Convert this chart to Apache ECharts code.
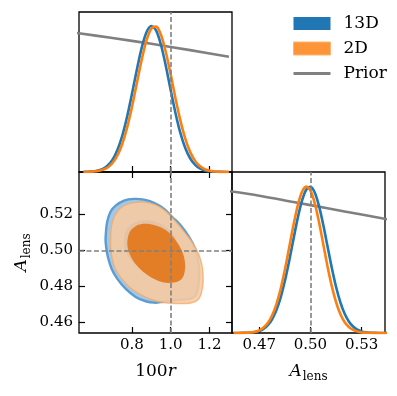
<!DOCTYPE html>
<html>
<head>
<meta charset="utf-8">
<script src="https://cdn.jsdelivr.net/npm/echarts@6/dist/echarts.min.js"></script>
<style>
  html, body { margin: 0; padding: 0; background: #fff; }
  #chart { width: 397px; height: 396px; }
</style>
</head>
<body>
<div id="chart"></div>
<script>
// axis ranges and ticks
const rMin = 0.527, rMax = 1.316;
const aMin = 0.454, aMax = 0.5437;
const rTicks = [0.8, 1.0, 1.2];
const aTicksY = [0.46, 0.48, 0.50, 0.52];
const aTicksX = [0.47, 0.50, 0.53];
const rTrue = 1.0;
const aTrue = 0.5;

// 1D marginal of 100r
const rGrid = [0.550, 0.575, 0.600, 0.625, 0.650, 0.675, 0.700, 0.725, 0.750, 0.775, 0.800,
  0.825, 0.850, 0.875, 0.900, 0.925, 0.950, 0.975, 1.000, 1.025, 1.050, 1.075, 1.100,
  1.125, 1.150, 1.175, 1.200, 1.225, 1.250, 1.275, 1.300];
const r13D = [0.001, 0.002, 0.004, 0.010, 0.022, 0.045, 0.085, 0.151, 0.248, 0.378, 0.534,
  0.699, 0.849, 0.957, 1.000, 0.969, 0.870, 0.725, 0.560, 0.401, 0.266, 0.164, 0.094,
  0.050, 0.024, 0.011, 0.005, 0.002, 0.001, 0.000, 0.000];
const r2D = [0.000, 0.001, 0.003, 0.007, 0.015, 0.031, 0.062, 0.113, 0.192, 0.304, 0.445,
  0.607, 0.767, 0.901, 0.983, 0.996, 0.938, 0.820, 0.666, 0.502, 0.352, 0.229, 0.138,
  0.078, 0.041, 0.020, 0.009, 0.004, 0.001, 0.001, 0.000];
const rPriorX = [0.50, 0.70, 0.90, 1.10, 1.30];
const rPriorY = [0.955, 0.918, 0.878, 0.835, 0.790];

// 1D marginal of A_lens
const aGrid = [0.4550, 0.4575, 0.4600, 0.4625, 0.4650, 0.4675, 0.4700, 0.4725, 0.4750, 0.4775,
  0.4800, 0.4825, 0.4850, 0.4875, 0.4900, 0.4925, 0.4950, 0.4975, 0.5000, 0.5025,
  0.5050, 0.5075, 0.5100, 0.5125, 0.5150, 0.5175, 0.5200, 0.5225, 0.5250, 0.5275,
  0.5300, 0.5325, 0.5350, 0.5375, 0.5400, 0.5425, 0.5450];
const a13D = [0.000, 0.000, 0.001, 0.001, 0.003, 0.007, 0.014, 0.028, 0.053, 0.094,
  0.155, 0.242, 0.355, 0.491, 0.639, 0.783, 0.902, 0.979, 0.999, 0.960,
  0.868, 0.739, 0.592, 0.446, 0.316, 0.211, 0.133, 0.079, 0.044, 0.023,
  0.011, 0.005, 0.002, 0.001, 0.000, 0.000, 0.000];
const a2D = [0.000, 0.000, 0.001, 0.002, 0.004, 0.009, 0.018, 0.037, 0.068, 0.120,
  0.196, 0.300, 0.432, 0.582, 0.734, 0.869, 0.963, 1.000, 0.973, 0.887,
  0.758, 0.607, 0.455, 0.320, 0.211, 0.130, 0.075, 0.041, 0.021, 0.010,
  0.004, 0.002, 0.001, 0.000, 0.000, 0.000, 0.000];
const aPriorX = [0.45, 0.47, 0.49, 0.51, 0.53, 0.55];
const aPriorY = [0.973, 0.938, 0.895, 0.852, 0.809, 0.766];

// 2D contours [100r, A_lens]
const c13D95 = [[0.664, 0.5065], [0.672, 0.5157], [0.690, 0.5217], [0.716, 0.5250], [0.759, 0.5278],
  [0.810, 0.5287], [0.862, 0.5283], [0.914, 0.5265], [0.966, 0.5231], [1.009, 0.5185],
  [1.052, 0.5139], [1.095, 0.5074], [1.126, 0.5009], [1.141, 0.4944], [1.147, 0.4880],
  [1.143, 0.4806], [1.133, 0.4759], [1.112, 0.4735], [1.060, 0.4726], [1.009, 0.4722],
  [0.957, 0.4713], [0.914, 0.4709], [0.871, 0.4717], [0.819, 0.4741], [0.767, 0.4787],
  [0.724, 0.4843], [0.695, 0.4898], [0.676, 0.4963], [0.667, 0.5019]];
const c13D68 = [[0.759, 0.5046], [0.771, 0.5117], [0.819, 0.5157], [0.888, 0.5167], [0.957, 0.5143],
  [1.012, 0.5093], [1.043, 0.5009], [1.053, 0.4926], [1.040, 0.4852], [0.991, 0.4824],
  [0.931, 0.4839], [0.862, 0.4880], [0.805, 0.4935], [0.771, 0.4987]];
const c2D95 = [[0.690, 0.5065], [0.695, 0.5139], [0.716, 0.5204], [0.750, 0.5244], [0.802, 0.5265],
  [0.862, 0.5269], [0.922, 0.5254], [0.974, 0.5219], [1.026, 0.5161], [1.074, 0.5098],
  [1.116, 0.5037], [1.147, 0.4972], [1.164, 0.4898], [1.167, 0.4824], [1.157, 0.4759],
  [1.138, 0.4722], [1.103, 0.4707], [1.052, 0.4704], [1.000, 0.4706], [0.948, 0.4713],
  [0.897, 0.4728], [0.845, 0.4754], [0.793, 0.4791], [0.747, 0.4843], [0.712, 0.4902],
  [0.695, 0.4972], [0.690, 0.5019]];
const c2D68 = [[0.776, 0.5037], [0.788, 0.5102], [0.819, 0.5135], [0.862, 0.5148], [0.922, 0.5139],
  [0.978, 0.5111], [1.026, 0.5056], [1.060, 0.4991], [1.074, 0.4926], [1.067, 0.4861],
  [1.040, 0.4828], [0.988, 0.4819], [0.931, 0.4833], [0.871, 0.4870], [0.822, 0.4920],
  [0.790, 0.4976]];

const FONT = "DejaVu Serif";
const BLUE = "#1f77b4";
const ORANGE = "#ff7f0e";
const GREY = "#808080";

let chart = echarts.init(document.getElementById("chart"), null, { renderer: "canvas" });

function pairs(xs, ys) {
  return xs.map((x, i) => [x, ys[i]]);
}

// filled contour drawn through the axis scales
function contour(name, pts, xi, yi, fill, stroke, lw, z) {
  return {
    name: name,
    type: "custom",
    xAxisIndex: xi,
    yAxisIndex: yi,
    z: z,
    silent: true,
    data: pts,
    renderItem: function (params, api) {
      if (params.dataIndex !== 0) return;
      return {
        type: "polygon",
        shape: { points: pts.map((p) => api.coord(p)), smooth: 0.35 },
        style: { fill: fill, stroke: stroke, lineWidth: lw },
      };
    },
  };
}

function dashed(xi, yi, items, z) {
  return {
    type: "line",
    xAxisIndex: xi,
    yAxisIndex: yi,
    data: [],
    z: z,
    markLine: {
      silent: true,
      symbol: "none",
      animation: false,
      label: { show: false },
      lineStyle: { color: GREY, width: 1.6, type: [5, 2.5] },
      data: items,
    },
  };
}

function curve(name, xs, ys, xi, yi, color, z) {
  return {
    name: name,
    type: "line",
    xAxisIndex: xi,
    yAxisIndex: yi,
    data: pairs(xs, ys),
    smooth: 0.3,
    symbol: "none",
    z: z,
    lineStyle: { color: color, width: 2.6 },
    itemStyle: { color: color },
  };
}

const tickStyle = { lineStyle: { color: "#000", width: 1.2 } };
const nameRich = {
  n: { fontFamily: FONT, fontSize: 17, color: "#000", verticalAlign: "top" },
  i: { fontFamily: FONT, fontSize: 17, color: "#000", fontStyle: "italic", verticalAlign: "top" },
  s: { fontFamily: FONT, fontSize: 12, color: "#000", verticalAlign: "top", padding: [8, 0, 0, 1] },
};

function xAx(grid, pos, min, max, ticks, labelDigits, name) {
  return {
    type: "value",
    gridIndex: grid,
    position: pos,
    min: min,
    max: max,
    axisLine: { show: false },
    splitLine: { show: false },
    axisTick: Object.assign({ inside: true, length: 6, customValues: ticks }, tickStyle),
    axisLabel: {
      show: labelDigits != null,
      customValues: ticks,
      formatter: (v) => v.toFixed(labelDigits || 1),
      fontFamily: FONT,
      fontSize: 15,
      color: "#000",
      margin: 5,
    },
    name: name || "",
    nameLocation: "middle",
    nameGap: 30,
    nameTextStyle: { rich: nameRich },
  };
}

let option = {
  animation: false,
  backgroundColor: "#fff",
  grid: [
    { left: 79, top: 12, width: 153, height: 160 },
    { left: 79, top: 172, width: 153, height: 161 },
    { left: 232, top: 172, width: 153, height: 161 },
  ].map((g) =>
    Object.assign(g, { show: true, borderColor: "#000", borderWidth: 1.3, backgroundColor: "transparent" })
  ),
  legend: {
    left: 288,
    top: 10,
    orient: "vertical",
    selectedMode: false,
    itemWidth: 37,
    itemHeight: 13,
    itemGap: 8,
    formatter: (name) => "{t|" + name + "}",
    textStyle: {
      rich: { t: { fontFamily: FONT, fontSize: 17, color: "#000", lineHeight: 17, padding: [0, 0, 0, 8] } },
    },
    data: [
      { name: "13D", icon: "rect", itemStyle: { color: "#2077b4" } },
      { name: "2D", icon: "rect", itemStyle: { color: "#fd9437", borderColor: "#ffb571", borderWidth: 1 } },
      { name: "Prior", icon: "path://M0,0L40,0L40,3L0,3Z", itemStyle: { color: GREY } },
    ],
  },
  xAxis: [
    xAx(0, "bottom", rMin, rMax, rTicks, null),
    xAx(1, "bottom", rMin, rMax, rTicks, 1, "{n|100}{i|r}"),
    xAx(1, "top", rMin, rMax, rTicks, null),
    xAx(2, "bottom", aMin, aMax, aTicksX, 2, "{i|A}{s|lens}"),
  ],
  yAxis: [
    { type: "value", gridIndex: 0, min: 0, max: 1.096, show: false },
    {
      type: "value",
      gridIndex: 1,
      position: "left",
      min: aMin,
      max: aMax,
      axisLine: { show: false },
      splitLine: { show: false },
      axisTick: Object.assign({ inside: true, length: 6, customValues: aTicksY }, tickStyle),
      axisLabel: {
        customValues: aTicksY,
        formatter: (v) => v.toFixed(2),
        fontFamily: FONT,
        fontSize: 15,
        color: "#000",
        margin: 6,
      },
      name: "{i|A}{s|lens}",
      nameLocation: "middle",
      nameGap: 46,
      nameRotate: 90,
      nameTextStyle: { rich: nameRich },
    },
    {
      type: "value",
      gridIndex: 1,
      position: "right",
      min: aMin,
      max: aMax,
      axisLine: { show: false },
      splitLine: { show: false },
      axisTick: Object.assign({ inside: true, length: 6, customValues: aTicksY }, tickStyle),
      axisLabel: { show: false },
    },
    { type: "value", gridIndex: 2, min: 0, max: 1.1, show: false },
  ],
  series: [
    // top panel: 100r
    curve("Prior", rPriorX, rPriorY, 0, 0, GREY, 2),
    dashed(0, 0, [{ xAxis: rTrue }], 2),
    curve("13D", rGrid, r13D, 0, 0, BLUE, 3),
    curve("2D", rGrid, r2D, 0, 0, ORANGE, 4),

    // 2D panel
    contour("c13D95", c13D95, 1, 1, "#a3c8e6", "#5b9dd2", 2.4, 2),
    contour("c13D68", c13D68, 1, 1, "#4a8dc6", null, 0, 2),
    contour("c2D95", c2D95, 1, 1, "rgba(248,202,160,0.88)", "rgba(244,168,100,0.75)", 1.4, 3),
    contour("c2D68", c2D68, 1, 1, "rgba(227,122,32,0.95)", null, 0, 3),
    dashed(1, 1, [{ xAxis: rTrue }, { yAxis: aTrue }], 6),

    // bottom-right panel: A_lens
    curve("Prior", aPriorX, aPriorY, 3, 3, GREY, 2),
    dashed(3, 3, [{ xAxis: aTrue }], 2),
    curve("13D", aGrid, a13D, 3, 3, BLUE, 3),
    curve("2D", aGrid, a2D, 3, 3, ORANGE, 4),
  ],
};

chart.setOption(option);
</script>
</body>
</html>
